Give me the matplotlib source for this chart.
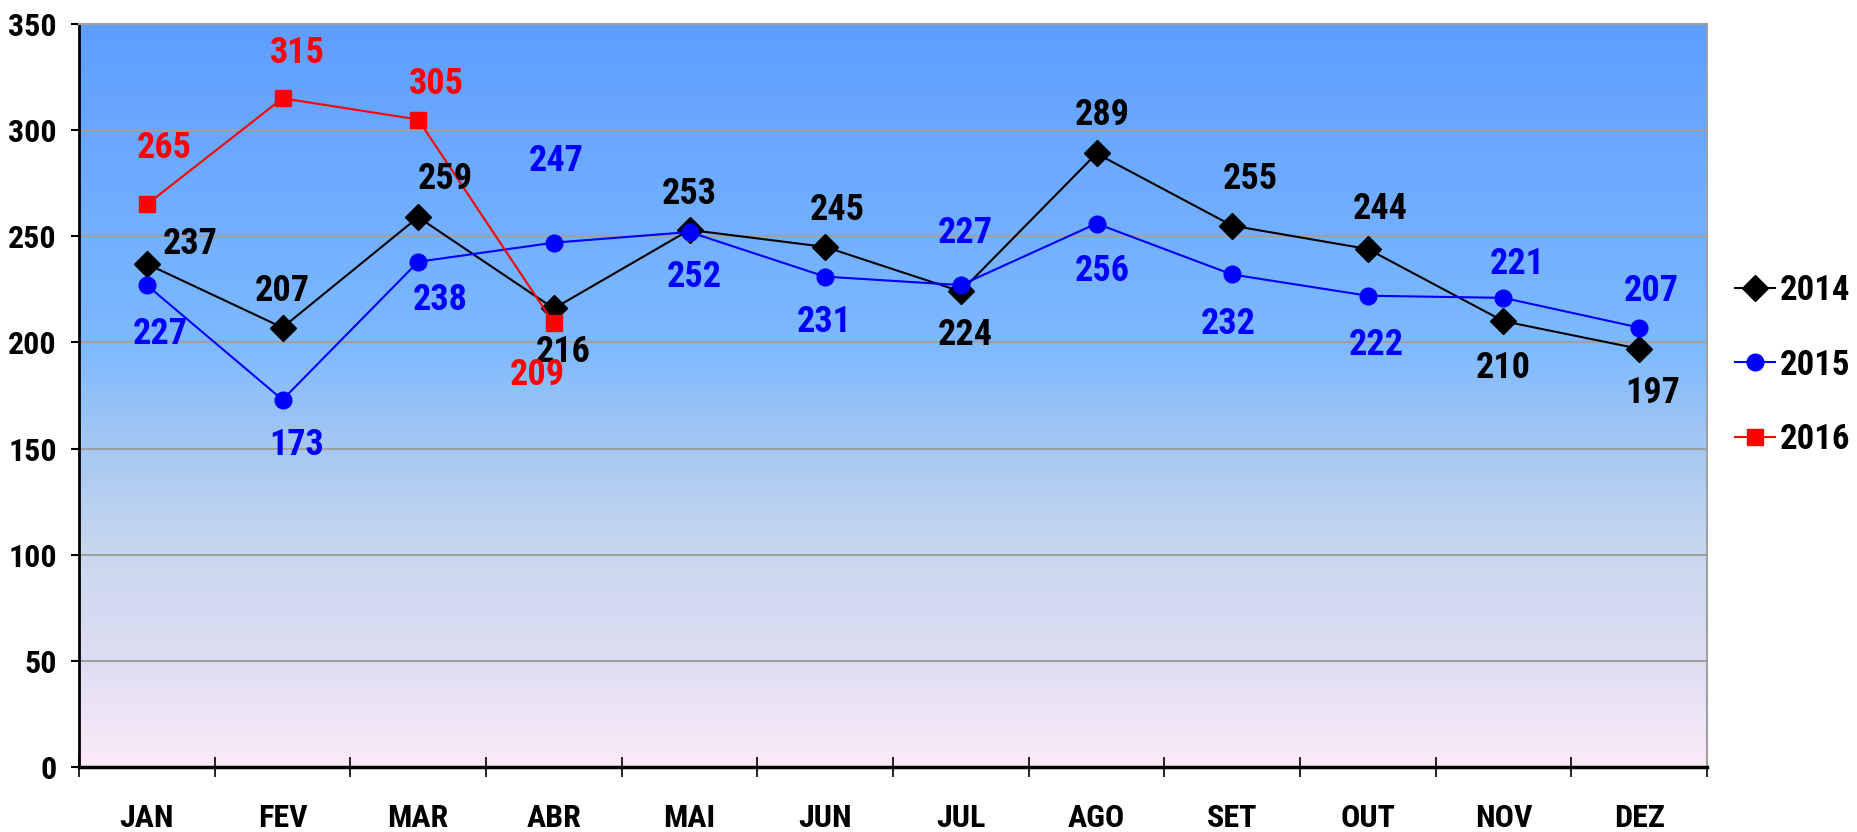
import numpy as np
import matplotlib
matplotlib.use("Agg")
import matplotlib.pyplot as plt
from matplotlib.colors import LinearSegmentedColormap

months = ["JAN", "FEV", "MAR", "ABR", "MAI", "JUN", "JUL", "AGO", "SET", "OUT", "NOV", "DEZ"]
v2014 = [237, 207, 259, 216, 253, 245, 224, 289, 255, 244, 210, 197]
v2015 = [227, 173, 238, 247, 252, 231, 227, 256, 232, 222, 221, 207]
v2016 = [265, 315, 305, 209]
yticks = [0, 50, 100, 150, 200, 250, 300, 350]

# label offsets (pixels, x right / y up)
off2014 = [(43, 20), (0, 37), (27, 38), (9, -44), (0, 36), (12, 37), (4, -44), (6, 38), (18, 47), (12, 40), (0, -47), (14, -44)]
off2015 = [(13, -49), (14, -45), (22, -38), (2, 82), (5, -45), (-1, -45), (4, 52), (6, -47), (-4, -50), (8, -49), (14, 34), (12, 37)]
off2016 = [(17, 56), (15, 45), (18, 36), (-17, -52)]

plt.rcParams['font.family'] = ['Roboto Condensed', 'Liberation Sans', 'DejaVu Sans']
plt.rcParams['font.weight'] = 'bold'

fig = plt.figure(figsize=(18.57, 8.32), dpi=100)
ax = fig.add_axes([79/1857, 1-767/832, (1707-79)/1857, (767-24)/832])

x = np.arange(len(months))
ax.set_xlim(-0.5, 11.5)
ax.set_ylim(0, 350)

# gradient background
stops = [(0.0, (95/255, 158/255, 255/255)),
         (0.43, (125/255, 185/255, 255/255)),
         (0.57, (165/255, 200/255, 242/255)),
         (0.71, (200/255, 215/255, 238/255)),
         (0.86, (222/255, 222/255, 242/255)),
         (1.0, (252/255, 234/255, 248/255))]
cmap = LinearSegmentedColormap.from_list("bg", stops)
grad = np.linspace(0, 1, 256).reshape(-1, 1)
ax.imshow(grad, cmap=cmap, aspect='auto', extent=(-0.5, 11.5, 0, 350), origin='upper', zorder=0)

for yv in yticks[1:]:
    ax.axhline(yv, color='#A0A0A0', lw=1.5, zorder=1)

ax.plot(x, v2014, color='black', lw=1.5, marker='D', markersize=13, label='2014', zorder=3)
ax.plot(x, v2015, color='#0000FF', lw=1.5, marker='o', markersize=12, label='2015', zorder=3)
ax.plot(x[:len(v2016)], v2016, color='#FF0000', lw=1.5, marker='s', markersize=12, label='2016', zorder=4)

def labels(vals, offs, color):
    for i, (v, o) in enumerate(zip(vals, offs)):
        ax.annotate(str(v), (x[i], v), xytext=o, textcoords='offset pixels',
                    ha='center', va='center', fontsize=26, fontweight='bold', color=color, zorder=5)

labels(v2014, off2014, 'black')
labels(v2015, off2015, '#0000FF')
labels(v2016, off2016, '#FF0000')

ax.set_yticks(yticks)
ax.set_yticklabels([str(t) for t in yticks], fontsize=23, fontweight='bold')
ax.set_xticks(x)
ax.set_xticklabels(months, fontsize=23, fontweight='bold')
ax.set_xticks(np.arange(-0.5, 12, 1), minor=True)
ax.tick_params(axis='x', which='major', length=0, pad=26)
ax.tick_params(axis='x', which='minor', length=14, width=1.2, direction='inout')
ax.tick_params(axis='y', which='major', length=6, width=1.5, pad=10)

ax.spines['left'].set_linewidth(2)
ax.spines['bottom'].set_linewidth(2.5)
ax.spines['top'].set_color('#A0A0A0')
ax.spines['top'].set_linewidth(1.5)
ax.spines['right'].set_color('#A0A0A0')
ax.spines['right'].set_linewidth(1.5)
for s in ax.spines.values():
    s.set_zorder(6)

leg = fig.legend(loc='center left', bbox_to_anchor=(1735/1857, 1-365/832), frameon=False,
                 handlelength=1.15, handletextpad=0.15, labelspacing=1.2,
                 borderpad=0, borderaxespad=0,
                 prop={'family': ['Roboto Condensed', 'DejaVu Sans'], 'weight': 'bold', 'size': 25})

fig.savefig("out.png", dpi=100)
